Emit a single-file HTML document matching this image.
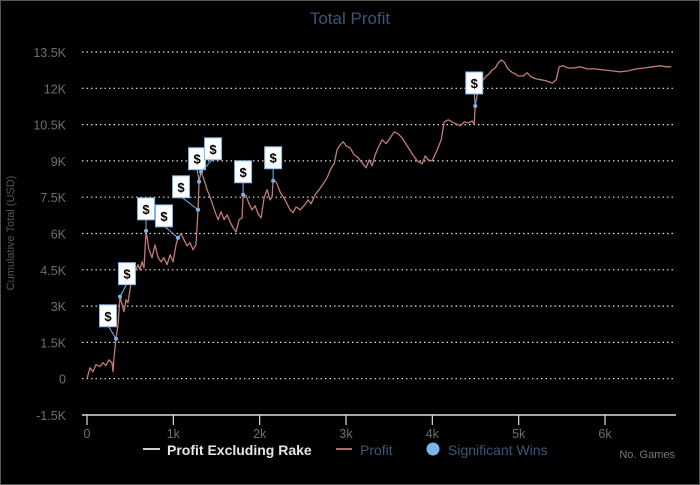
<!DOCTYPE html>
<html><head><meta charset="utf-8"><style>
html,body{margin:0;padding:0;background:#000;}
svg{display:block;font-family:"Liberation Sans",sans-serif;}
</style></head><body>
<svg id="chart" width="700" height="485" viewBox="0 0 700 485">
<rect x="0.5" y="0.5" width="699" height="484" fill="#000" stroke="#555"/>
<text x="350" y="24" text-anchor="middle" font-size="17" fill="#3b5677">Total Profit</text>
<text transform="translate(14,233) rotate(-90)" text-anchor="middle" font-size="11" fill="#555">Cumulative Total (USD)</text>
<g id="grid"></g><g id="yticks"></g><g id="xaxis"></g>
<path id="profit-line" fill="none" stroke="#c27b77" stroke-width="1.3" stroke-linejoin="round"/>
<g id="markers"></g>
<g>
<g>
<line x1="143" y1="449" x2="160" y2="449" stroke="#ccc" stroke-width="2"/>
<text x="167" y="455" font-size="14" font-weight="bold" fill="#e6e6e6">Profit Excluding Rake</text></g>
<g>
<line x1="336" y1="449" x2="352" y2="449" stroke="#a8706c" stroke-width="2"/>
<text x="360" y="455" font-size="14" fill="#3b5677">Profit</text></g>
<g>
<circle cx="433" cy="449" r="6.5" fill="#7cb5ec"/>
<text x="448" y="455" font-size="14" fill="#3b5677">Significant Wins</text></g>
</g>
<text x="675" y="458" text-anchor="end" font-size="11" fill="#777">No. Games</text>
</svg>
<script>
const yTicks=[-1500,0,1500,3000,4500,6000,7500,9000,10500,12000,13500];
const yTickLabels=["-1.5K","0","1.5K","3K","4.5K","6K","7.5K","9K","10.5K","12K","13.5K"];
const xTicks=[0,1000,2000,3000,4000,5000,6000];
const xTickLabels=["0","1k","2k","3k","4k","5k","6k"];
const games=[0,35,70,104,151,185,220,255,290,301,313,336,359,382,406,429,452,475,498,522,545,568,591,614,637,660,684,718,753,788,823,858,892,927,962,997,1031,1054,1089,1124,1159,1194,1228,1263,1286,1298,1321,1356,1391,1437,1483,1518,1553,1588,1623,1657,1692,1727,1762,1796,1808,1843,1877,1912,1947,1982,2017,2051,2086,2121,2144,2156,2190,2237,2295,2353,2387,2422,2468,2514,2561,2596,2642,2688,2735,2781,2828,2862,2897,2932,2967,3002,3048,3094,3141,3187,3233,3268,3303,3338,3372,3419,3465,3511,3558,3604,3650,3709,3767,3825,3883,3917,3952,3999,4056,4103,4137,4184,4230,4276,4323,4369,4416,4462,4485,4497,4520,4555,4590,4624,4659,4694,4729,4763,4798,4833,4868,4914,4960,4995,5052,5098,5145,5203,5261,5319,5388,5435,5469,5516,5573,5643,5712,5793,5886,5979,6083,6176,6269,6362,6455,6548,6641,6711,6768];
const profit=[0,450,290,580,500,660,540,780,660,290,870,1650,2230,3390,3060,2770,3260,3140,3680,4170,4710,4500,4710,4500,4830,4580,6110,5330,5000,5530,5000,4830,5000,4710,5120,4830,5530,5820,5990,5740,5490,5620,5330,5530,6980,8140,8550,8220,7810,7390,6900,6570,6900,6570,6770,6480,6240,6070,6570,6650,7600,7560,7230,6980,7150,6810,6650,7480,7810,7390,7520,8180,8140,7720,7390,6980,6860,7100,6980,7150,7390,7230,7600,7810,8050,8300,8710,8880,9460,9660,9790,9620,9540,9250,9130,8920,8710,9040,8800,9250,9540,9870,9710,9950,10200,10120,9950,9620,9290,9000,8880,9210,9040,9000,9460,9870,10610,10700,10610,10530,10450,10610,10570,10650,10530,11270,11730,12140,12350,12510,12600,12760,12840,13050,13170,13090,12840,12680,12600,12510,12510,12640,12470,12390,12350,12310,12220,12350,12890,12930,12840,12840,12890,12800,12800,12760,12720,12680,12720,12800,12840,12890,12930,12890,12890];
const winGames=[336,382,684,1054,1286,1298,1321,1808,2156,4497];
const winProfit=[1650,3390,6110,5820,6980,8140,8550,7600,8180,11270];
// label box offsets (styling)
const boxDx=[-8,7,0,-14,-17,-2,12,0,0,-1];
const boxDy=[-23,-23,-22,-22,-23,-23,-23,-23,-23,-23];

const NS="http://www.w3.org/2000/svg";
const X0=82,X1=676,Y0=52,Y1=415;
function xs(g){return 87+g*(605-87)/6000;}
function ys(v){return Y1-(v+1500)*(Y1-Y0)/15000;}
function mk(t,a,p){const e=document.createElementNS(NS,t);for(const k in a)e.setAttribute(k,a[k]);p.appendChild(e);return e;}
const grid=document.getElementById('grid'),yt=document.getElementById('yticks'),xa=document.getElementById('xaxis');
yTicks.forEach((v,i)=>{
  if(v>-1500){const l=mk('line',{x1:X0,x2:X1,y1:ys(v),y2:ys(v),stroke:'#ddd','stroke-width':1.2,'stroke-dasharray':'1.5,3'},grid);
  
  }
  const t=mk('text',{x:66,y:ys(v)+5,'text-anchor':'end','font-size':12.5,fill:'#6e6e6e'},yt);
  t.textContent=yTickLabels[i];
  
  
});
const ax=mk('line',{x1:X0,x2:X1,y1:Y1,y2:Y1,stroke:'#ddd','stroke-width':1.5},xa);


xTicks.forEach((g,i)=>{
  const tk=mk('line',{x1:xs(g),x2:xs(g),y1:Y1,y2:Y1+10,stroke:'#ddd','stroke-width':1.2},xa);
  
  
  const t=mk('text',{x:xs(g),y:438,'text-anchor':'middle','font-size':12.5,fill:'#6e6e6e'},xa);
  t.textContent=xTickLabels[i];
  
  
});
document.getElementById('profit-line').setAttribute('d',games.map((g,i)=>(i?'L':'M')+xs(g).toFixed(1)+','+ys(profit[i]).toFixed(1)).join(''));
const mg=document.getElementById('markers');
winGames.forEach((g,i)=>{
  const px=xs(g),py=ys(winProfit[i]),bx=px+boxDx[i],by=py+boxDy[i];
  const grp=mk('g',{},mg);
  
  
  mk('line',{x1:px,y1:py,x2:bx,y2:by+10,stroke:'#7cb5ec','stroke-width':1},grp);
  mk('circle',{cx:px,cy:py,r:2,fill:'#7cb5ec'},grp);
  mk('rect',{x:bx-8.5,y:by-11,width:17,height:22,fill:'#fff',stroke:'#7cb5ec','stroke-width':1},grp);
  const t=mk('text',{x:bx,y:by+5,'text-anchor':'middle','font-size':13,'font-weight':'bold',fill:'#000'},grp);
  t.textContent='$';
});
</script>
</body></html>
